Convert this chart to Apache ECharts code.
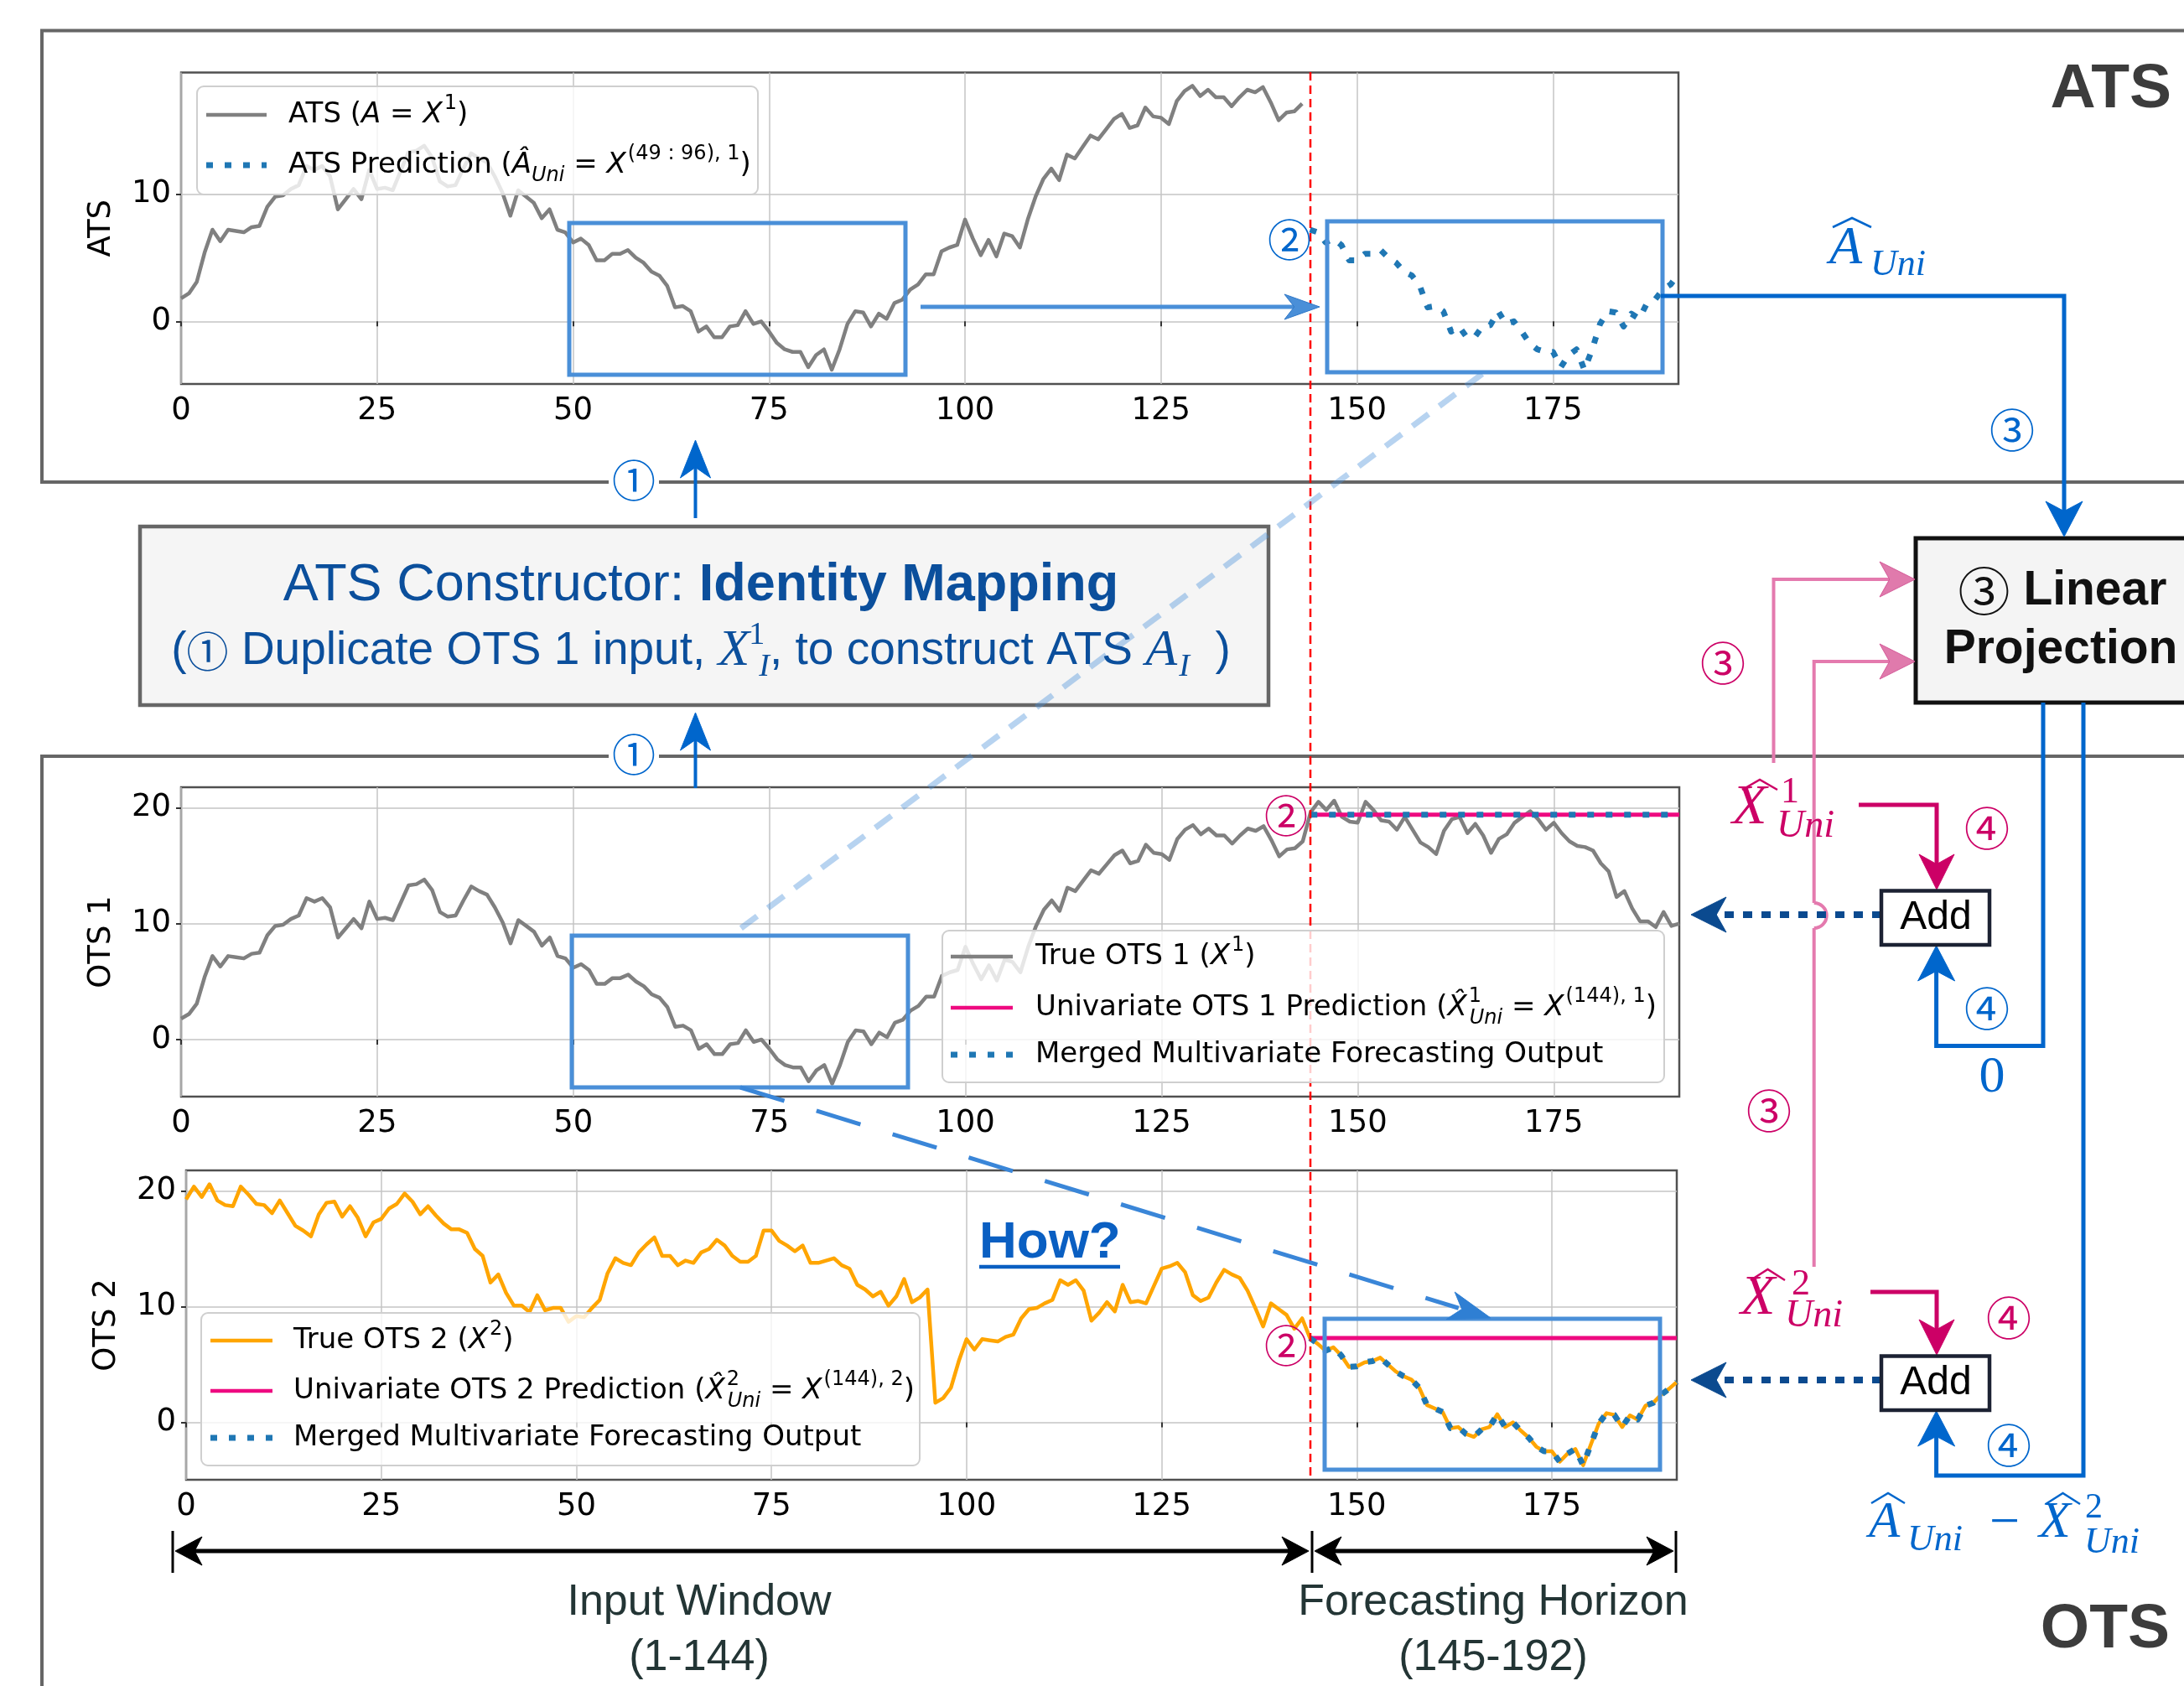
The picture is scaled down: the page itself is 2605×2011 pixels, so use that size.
<!DOCTYPE html>
<html>
<head>
<meta charset="utf-8">
<script src="https://cdn.jsdelivr.net/npm/echarts@6.0.0/dist/echarts.min.js"></script>
<style>
html,body{margin:0;padding:0;background:#fff;}
#fig{width:2605px;height:2011px;}
</style>
</head>
<body>
<div id="fig"></div>
<script>
// OTS 1 (X^1), t = 0..191
const ots1 = [
  1.8, 2.2, 3.1, 5.4, 7.2, 6.3, 7.2, 7.1, 7.0, 7.4,
  7.5, 9.0, 9.8, 9.9, 10.4, 10.7, 12.2, 11.9, 12.2, 11.4,
  8.8, 9.6, 10.4, 9.6, 11.9, 10.4, 10.5, 10.3, 11.8, 13.3,
  13.4, 13.8, 12.9, 11.0, 10.6, 10.7, 12.0, 13.2, 12.8, 12.5,
  11.4, 10.1, 8.3, 10.3, 9.8, 9.3, 8.1, 8.8, 7.2, 7.0,
  6.2, 6.5, 6.0, 4.8, 4.8, 5.3, 5.3, 5.6, 5.0, 4.6,
  3.9, 3.6, 2.8, 1.1, 1.2, 0.8, -0.8, -0.4, -1.25, -1.25,
  -0.4, -0.3, 0.8, -0.2, 0.0, -0.8, -1.7, -2.2, -2.4, -2.4,
  -3.6, -2.65, -2.2, -3.8, -2.2, -0.2, 0.8, 0.7, -0.4, 0.6,
  0.2, 1.45, 1.7, 2.5, 2.9, 3.7, 3.7, 5.5, 5.8, 6.0,
  8.0, 6.5, 5.2, 6.4, 5.1, 6.9, 6.7, 5.8, 8.0, 9.8,
  11.2, 12.0, 11.1, 13.1, 12.8, 13.7, 14.6, 14.3, 15.1, 15.9,
  16.3, 15.2, 15.4, 16.8, 16.1, 16.0, 15.5, 17.3, 18.1, 18.5,
  17.7, 18.2, 17.6, 17.6, 16.9, 17.6, 18.2, 18.0, 18.4, 17.2,
  15.8, 16.4, 16.5, 17.1, 19.6, 20.5, 19.8, 20.6, 19.2, 18.8,
  18.7, 20.5, 19.8, 18.9, 18.8, 18.1, 19.2, 18.1, 17.0, 16.6,
  16.0, 18.0, 19.0, 19.2, 17.8, 18.6, 17.6, 16.1, 17.3, 17.7,
  18.7, 19.2, 19.7, 19.0, 18.1, 18.7, 17.8, 17.1, 16.7, 16.6,
  16.3, 15.2, 14.5, 12.3, 12.8, 11.3, 10.2, 10.2, 9.7, 11.0,
  9.8, 10.0
];
// OTS 2 (X^2), t = 0..191
const ots2 = [
  19.3, 20.4, 19.5, 20.6, 19.2, 18.8, 18.7, 20.4, 19.7, 18.9,
  18.8, 18.1, 19.2, 18.1, 17.0, 16.6, 16.1, 18.0, 19.0, 19.1,
  17.8, 18.7, 17.7, 16.1, 17.3, 17.6, 18.5, 18.9, 19.8, 19.1,
  18.0, 18.7, 17.9, 17.2, 16.7, 16.7, 16.4, 15.0, 14.4, 12.1,
  12.8, 11.2, 10.1, 10.1, 9.55, 11.0, 9.7, 9.9, 9.9, 8.7,
  9.2, 9.1, 9.9, 10.6, 12.9, 14.2, 13.8, 13.6, 14.7, 15.4,
  16.0, 14.4, 14.4, 13.6, 14.0, 13.8, 14.7, 15.0, 15.8, 15.3,
  14.4, 13.9, 13.9, 14.4, 16.6, 16.6, 15.7, 15.3, 14.8, 15.3,
  13.8, 13.8, 14.0, 14.2, 13.6, 13.3, 11.9, 11.5, 10.9, 11.3,
  10.1, 10.9, 12.4, 10.4, 10.8, 11.5, 1.7, 2.1, 3.0, 5.3,
  7.2, 6.3, 7.2, 7.1, 7.0, 7.4, 7.6, 9.0, 9.8, 9.9,
  10.3, 10.6, 12.3, 11.9, 12.3, 11.4, 8.8, 9.5, 10.4, 9.6,
  11.9, 10.4, 10.5, 10.3, 11.8, 13.3, 13.5, 13.8, 13.0, 11.0,
  10.5, 10.8, 12.1, 13.2, 12.8, 12.5, 11.4, 9.9, 8.3, 10.3,
  9.8, 9.3, 8.1, 9.0, 7.3, 6.8, 6.2, 6.5, 5.8, 4.8,
  4.85, 5.2, 5.3, 5.6, 5.0, 4.4, 4.0, 3.7, 3.0, 1.5,
  1.2, 0.9, -0.5, -0.4, -1.0, -1.25, -0.6, -0.4, 0.7, -0.4,
  0.0, -0.7, -1.3, -2.1, -2.5, -2.5, -3.4, -2.7, -2.3, -3.7,
  -1.9, -0.1, 0.8, 0.65, -0.4, 0.6, 0.25, 1.45, 1.7, 2.4,
  2.9, 3.5
];
const xTicks = [0, 25, 50, 75, 100, 125, 150, 175];
const yTicks = [0, 10, 20];
const horizonStart = 144;      // first forecast step
const atsWindow = [48, 96];     // X^(49:96),1  (0-based slice)
const uniPred = [19.4, 7.3];    // univariate (last value) prediction, OTS 1 / OTS 2

// series data built from the arrays above
const atsData = ots1.slice(0, horizonStart).map((v, i) => [i, v]);
const atsPredData = ots1.slice(atsWindow[0], atsWindow[1]).map((v, i) => [horizonStart + i, v]);
const ots1Data = ots1.map((v, i) => [i, v]);
const ots2Data = ots2.map((v, i) => [i, v]);
const horizonX = ots1.slice(horizonStart).map((v, i) => horizonStart + i);
const uni1Data = horizonX.map(x => [x, uniPred[0]]);
const uni2Data = horizonX.map(x => [x, uniPred[1]]);
const merged2Data = ots2.slice(horizonStart).map((v, i) => [horizonStart + i, v]);

const BLUE = '#0066cc', PINK = '#cc0066', LPINK = '#e47aae', BOXC = '#4a8fd8', NAVY = '#0b4a8f';
const GRAY = '#808080', ORANGE = '#ffa500', UNI = '#ee0a80', DOT = '#1f77b4';
const SANS = 'DejaVu Sans';
const DOTS = [8, 14];

function xAx(gi) {
  return {
    type: 'value', gridIndex: gi, min: 0, max: 191,
    axisLine: {show: false},
    axisTick: {show: true, customValues: xTicks, length: 6, lineStyle: {color: '#333', width: 2}},
    axisLabel: {customValues: xTicks, fontFamily: SANS, fontSize: 37, color: '#000', margin: 14},
    splitLine: {show: true, lineStyle: {color: '#c4c4c4', width: 1.5}}
  };
}
function yAx(gi, min, max, name) {
  return {
    type: 'value', gridIndex: gi, min: min, max: max,
    name: name, nameLocation: 'middle', nameGap: 76, nameRotate: 90,
    nameTextStyle: {fontFamily: SANS, fontSize: 37, color: '#000'},
    axisLine: {show: false},
    axisTick: {show: true, customValues: yTicks, length: 6, lineStyle: {color: '#333', width: 2}},
    axisLabel: {customValues: yTicks, fontFamily: SANS, fontSize: 37, color: '#000', margin: 12},
    splitLine: {show: true, lineStyle: {color: '#c4c4c4', width: 1.5}}
  };
}
function ser(gi, data, color, width, dash, z) {
  return {
    type: 'line', xAxisIndex: gi, yAxisIndex: gi, data: data,
    showSymbol: false, symbol: 'none', silent: true, z: z || 2,
    lineStyle: {color: color, width: width, type: dash || 'solid', cap: 'butt', join: 'round'}
  };
}

// ---- graphic helpers ----
function P(pts, color, w, o) {
  o = o || {};
  return {type: 'polyline', z: o.z || 10, silent: true, shape: {points: pts},
    style: {stroke: color, lineWidth: w, fill: null, lineDash: o.dash || null, lineCap: 'butt', lineJoin: 'miter'}};
}
function R(x, y, w, h, stroke, lw, fill, o) {
  o = o || {};
  return {type: 'rect', z: o.z || 10, silent: true, shape: {x: x, y: y, width: w, height: h, r: o.r || 0},
    style: {stroke: stroke, lineWidth: lw, fill: fill || null}};
}
function H(tx, ty, ang, len, half, fill, o) {
  o = o || {};
  const c = Math.cos(ang), s = Math.sin(ang);
  const pt = (a, b) => [tx - a * c - b * s, ty - a * s + b * c];
  return {type: 'polygon', z: o.z || 11, silent: true,
    shape: {points: [pt(0, 0), pt(len, half), pt(len * 0.72, 0), pt(len, -half)]},
    style: {fill: fill, stroke: o.stroke || fill, lineWidth: o.lw || 1, lineJoin: 'miter'}};
}
function T(x, y, text, o) {
  o = o || {};
  const st = {text: text, fill: o.color || '#000', fontFamily: o.ff || 'Liberation Sans', fontSize: o.fs || 40,
    fontWeight: o.fw || 'normal', fontStyle: o.fst || 'normal', align: o.align || 'center', verticalAlign: o.va || 'middle'};
  if (o.rich) st.rich = o.rich;
  if (o.bg) { st.backgroundColor = o.bg; st.padding = o.pad || 0; }
  return {type: 'text', x: x, y: y, z: o.z || 12, silent: true, style: st};
}
function circ(x, y, ch, color, fs, o) {
  o = o || {};
  return T(x, y, ch, {ff: 'Noto Sans CJK SC', fs: fs || 50, color: color, bg: o.bg, pad: o.pad, z: o.z || 13});
}

// legend rich styles (matplotlib-like mathtext)
function rs(extra) {
  return Object.assign({fontFamily: SANS, fontSize: 34, lineHeight: 50, fill: '#000', color: '#000'}, extra || {});
}
const legRich = {
  t: rs(),
  i: rs({fontStyle: 'italic'}),
  sup: rs({fontSize: 24, lineHeight: 30, verticalAlign: 'top', padding: [0, 0, 0, 2]}),
  sup0: rs({fontSize: 24, lineHeight: 30, verticalAlign: 'top', width: 1, padding: [0, 0, 0, 2]}),
  sub: rs({fontSize: 24, lineHeight: 30, verticalAlign: 'bottom', fontStyle: 'italic'})
};
function legendBox(x, y, w, h, items) {
  const els = [R(x, y, w, h, '#cfcfcf', 2, 'rgba(255,255,255,0.8)', {r: 8, z: 20})];
  items.forEach(it => {
    els.push({type: 'line', z: 21, silent: true, shape: {x1: it.sx[0], y1: it.y, x2: it.sx[1], y2: it.y},
      style: {stroke: it.color, lineWidth: it.dotted ? 7 : 4.5, lineDash: it.dotted ? DOTS : null, lineCap: 'butt'}});
    els.push(T(it.tx, it.y, it.text, {align: 'left', ff: SANS, fs: 34, rich: legRich, z: 21}));
  });
  return els;
}
function hat(x1, x2, yb, yt, color) {
  return P([[x1, yb], [(x1 + x2) / 2, yt], [x2, yb]], color, 2.5, {z: 12});
}
function mt(x, y, text, color, fs, italic) {
  return T(x, y, text, {ff: 'Liberation Serif', fst: italic ? 'italic' : 'normal', align: 'left', color: color, fs: fs});
}

const g = [];
// panels
g.push(P([[2620, 36.5], [50, 36.5], [50, 575], [2620, 575]], '#666', 4, {z: 1}));
g.push(P([[2620, 902], [50, 902], [50, 2030]], '#666', 4, {z: 1}));
g.push(T(2590, 107, 'ATS', {fw: 'bold', fs: 75, color: '#3c3c3c', align: 'right'}));
g.push(T(2588, 1944, 'OTS', {fw: 'bold', fs: 75, color: '#3c3c3c', align: 'right'}));

// red horizon line
g.push({type: 'line', z: 4, silent: true, shape: {x1: 1563, y1: 86, x2: 1563, y2: 1765},
  style: {stroke: '#ff0000', lineWidth: 2.5, lineDash: [10, 6]}});

// constructor box
g.push(R(167, 628, 1346, 213, '#666', 4.5, '#f5f5f5', {z: 8}));
g.push(T(836, 699, '{r|ATS Constructor: }{b|Identity Mapping}', {z: 12, rich: {
  r: {fontFamily: 'Liberation Sans', fontSize: 63, fill: '#0b4f9c', color: '#0b4f9c'},
  b: {fontFamily: 'Liberation Sans', fontSize: 63, fontWeight: 'bold', fill: '#0b4f9c', color: '#0b4f9c'}}}));
(function () {
  const base = {fontFamily: 'Liberation Sans', fontSize: 55, lineHeight: 76, fill: '#0b4f9c', color: '#0b4f9c'};
  const m = Object.assign({}, base, {fontFamily: 'Liberation Serif', fontStyle: 'italic', fontSize: 62});
  g.push(T(836, 777, '{t|(}{c|①}{t| Duplicate OTS 1 input, }{m|X}{ms|1}{mi|I}{t|, to construct ATS }{m|A}{mi|I}{t|  )}', {z: 12, rich: {
    t: base,
    c: Object.assign({}, base, {fontFamily: 'Noto Sans CJK SC', fontSize: 50}),
    m: m,
    ms: Object.assign({}, base, {fontFamily: 'Liberation Serif', fontSize: 38, lineHeight: 46, verticalAlign: 'top', width: 1, padding: [0, 0, 0, 8]}),
    mi: Object.assign({}, base, {fontFamily: 'Liberation Serif', fontStyle: 'italic', fontSize: 38, lineHeight: 46, verticalAlign: 'bottom', padding: [0, 0, 0, 2]})
  }}));
})();
// step 1 arrows
g.push(P([[829.5, 618], [829.5, 555]], BLUE, 4));
g.push(H(829.5, 525, -Math.PI / 2, 45, 18, BLUE));
g.push(P([[829.5, 940], [829.5, 880]], BLUE, 4));
g.push(H(829.5, 850, -Math.PI / 2, 45, 18, BLUE));
g.push(circ(756, 573, '①', BLUE, 52, {bg: '#fff', pad: [0, 4]}));
g.push(circ(756, 900, '①', BLUE, 52, {bg: '#fff', pad: [0, 4]}));

// light dashed link ATS box -> OTS1 box
g.push({type: 'line', z: 9, silent: true, shape: {x1: 1768, y1: 446, x2: 876, y2: 1113},
  style: {stroke: 'rgba(74,144,217,0.4)', lineWidth: 7, lineDash: [24, 16]}});

// blue window boxes
g.push(R(679, 266, 401, 181, BOXC, 5, null, {z: 6}));
g.push(R(1583, 264, 400, 180, BOXC, 5, null, {z: 6}));
g.push(R(682, 1116, 401, 181, BOXC, 5, null, {z: 6}));
g.push(R(1580, 1573, 400, 180, BOXC, 5, null, {z: 6}));
// box -> box arrow
g.push(P([[1098, 366], [1545, 366]], BOXC, 5));
g.push(H(1574, 366, 0, 42, 15, BOXC, {stroke: '#2f78c8'}));
// "How?" dashed arrow
(function () {
  const a = Math.atan2(1572 - 1297, 1778 - 883);
  g.push({type: 'line', z: 9, silent: true,
    shape: {x1: 883, y1: 1297, x2: 1778 - 40 * Math.cos(a), y2: 1572 - 40 * Math.sin(a)},
    style: {stroke: '#3a86d8', lineWidth: 5, lineDash: [55, 40]}});
  g.push(H(1778, 1572, a, 50, 17, '#2f7fd3'));
})();
g.push(T(1168, 1483, 'How?', {fw: 'bold', fs: 62, color: '#0a5fc2', align: 'left'}));
g.push(P([[1168, 1511], [1336, 1511]], '#0a5fc2', 4.5));

// step 2 markers
g.push(circ(1538, 286, '②', BLUE, 52));
g.push(circ(1534, 973, '②', PINK, 52));
g.push(circ(1534, 1605, '②', PINK, 52));

// A_Uni -> Linear Projection
g.push(P([[1981, 353], [2462, 353], [2462, 612]], BLUE, 5));
g.push(H(2462, 640, Math.PI / 2, 42, 22, BLUE));
g.push(hat(2186, 2232, 271, 260, BLUE));
g.push(mt(2182, 297, 'A', BLUE, 64, true));
g.push(mt(2231, 316, 'Uni', BLUE, 44, true));
g.push(circ(2400, 513, '③', BLUE, 54));

// Linear Projection box
g.push(R(2285, 642, 400, 196, '#111', 5, '#f4f4f4', {z: 8}));
g.push(T(2460, 705, '{c|③}{b| Linear}', {z: 12, rich: {
  c: {fontFamily: 'Noto Sans CJK SC', fontSize: 62, fill: '#111', color: '#111'},
  b: {fontFamily: 'Liberation Sans', fontSize: 57, fontWeight: 'bold', fill: '#111', color: '#111'}}}));
g.push(T(2458, 775, 'Projection', {fw: 'bold', fs: 57, color: '#111'}));

// pink (light) inputs to linear projection
g.push(P([[2115.5, 910], [2115.5, 691], [2255, 691]], LPINK, 4));
g.push(H(2284, 691, 0, 42, 21, '#e07aac', {stroke: '#d45a98'}));
g.push(P([[2163.7, 1511], [2163.7, 1107]], LPINK, 4));
g.push({type: 'arc', z: 10, silent: true, shape: {cx: 2163.7, cy: 1092, r: 15, startAngle: Math.PI / 2, endAngle: -Math.PI / 2, clockwise: false},
  style: {stroke: LPINK, lineWidth: 4, fill: null}});
g.push(P([[2163.7, 1077], [2163.7, 789], [2255, 789]], LPINK, 4));
g.push(H(2284, 789, 0, 42, 21, '#e07aac', {stroke: '#d45a98'}));
g.push(circ(2055, 791, '③', PINK, 54));
g.push(circ(2110, 1325, '③', PINK, 54));

// X^1_Uni label and add block 1
g.push(hat(2078, 2120, 942, 930, PINK));
g.push(mt(2066, 964, 'X', PINK, 68, true));
g.push(mt(2124, 945, '1', PINK, 44, false));
g.push(mt(2119, 986, 'Uni', PINK, 46, true));
g.push(P([[2217, 960], [2310, 960], [2310, 1032]], PINK, 5));
g.push(H(2310, 1061, Math.PI / 2, 42, 21, PINK));
g.push(circ(2370, 988, '④', PINK, 54));
g.push(R(2244, 1062.5, 129, 64.5, '#1c2233', 4.5, '#fff', {z: 12}));
g.push(T(2309, 1095, 'Add', {fs: 48, z: 13}));
g.push(P([[2244, 1091], [2048, 1091]], NAVY, 8, {dash: [11, 11]}));
g.push(H(2017, 1091, Math.PI, 42, 21, NAVY));
g.push(P([[2437, 838], [2437, 1247.5], [2309.6, 1247.5], [2309.6, 1158]], BLUE, 5));
g.push(H(2309.6, 1128, -Math.PI / 2, 42, 22, BLUE));
g.push(circ(2370, 1203, '④', BLUE, 54));
g.push(mt(2376, 1286, '0', BLUE, 62, false));
g[g.length - 1].style.align = 'center';

// X^2_Uni label and add block 2
g.push(hat(2088, 2129, 1527, 1514, PINK));
g.push(mt(2076, 1549, 'X', PINK, 68, true));
g.push(mt(2137, 1532, '2', PINK, 44, false));
g.push(mt(2129, 1570, 'Uni', PINK, 46, true));
g.push(P([[2231, 1541], [2310, 1541], [2310, 1588]], PINK, 5));
g.push(H(2310, 1616, Math.PI / 2, 42, 21, PINK));
g.push(circ(2396, 1572, '④', PINK, 54));
g.push(R(2244, 1617.5, 129, 64.5, '#1c2233', 4.5, '#fff', {z: 12}));
g.push(T(2309, 1650, 'Add', {fs: 48, z: 13}));
g.push(P([[2244, 1646], [2048, 1646]], NAVY, 8, {dash: [11, 11]}));
g.push(H(2017, 1646, Math.PI, 42, 21, NAVY));
g.push(P([[2485, 838], [2485, 1760], [2309.6, 1760], [2309.6, 1713]], BLUE, 5));
g.push(H(2309.6, 1683, -Math.PI / 2, 42, 22, BLUE));
g.push(circ(2396, 1724, '④', BLUE, 54));
// A_Uni - X^2_Uni
g.push(hat(2232, 2272, 1793, 1781, BLUE));
g.push(mt(2229, 1817, 'A', BLUE, 61, true));
g.push(mt(2275, 1837, 'Uni', BLUE, 44, true));
g.push(T(2391, 1818, '\u2212', {ff: 'Liberation Serif', fs: 64, color: BLUE}));
g.push(hat(2440, 2481, 1794, 1781, BLUE));
g.push(mt(2432, 1817, 'X', BLUE, 62, true));
g.push(mt(2487, 1799, '2', BLUE, 42, false));
g.push(mt(2486, 1840, 'Uni', BLUE, 44, true));

// input window / horizon arrows
g.push(P([[230, 1850], [1540, 1850]], '#000', 5));
g.push(P([[1590, 1850], [1975, 1850]], '#000', 5));
g.push(H(209, 1850, Math.PI, 32, 17, '#000'));
g.push(H(1561, 1850, 0, 32, 17, '#000'));
g.push(H(1568, 1850, Math.PI, 32, 17, '#000'));
g.push(H(1996, 1850, 0, 32, 17, '#000'));
g.push(P([[206, 1826], [206, 1876]], '#000', 3));
g.push(P([[1565, 1826], [1565, 1876]], '#000', 3));
g.push(P([[1999, 1826], [1999, 1876]], '#000', 3));
g.push(T(834, 1912, 'Input Window', {fs: 52, color: '#233535'}));
g.push(T(834, 1978, '(1-144)', {fs: 52, color: '#233535'}));
g.push(T(1781, 1912, 'Forecasting Horizon', {fs: 52, color: '#233535'}));
g.push(T(1781, 1978, '(145-192)', {fs: 52, color: '#233535'}));

// legends
legendBox(235, 103, 669, 129, [
  {y: 137, sx: [246, 318], tx: 344, color: GRAY, text: '{t|ATS (}{i|A}{t| = }{i|X}{sup|1}{t|)}'},
  {y: 197, sx: [246, 318], tx: 344, color: DOT, dotted: true,
   text: '{t|ATS Prediction (}{i|\u00c2}{sub|Uni}{t| = }{i|X}{sup|(49 : 96), 1}{t|)}'}
]).forEach(e => g.push(e));
legendBox(1124, 1110, 861, 181, [
  {y: 1141, sx: [1134, 1208], tx: 1235, color: GRAY, text: '{t|True OTS 1 (}{i|X}{sup|1}{t|)}'},
  {y: 1202, sx: [1134, 1208], tx: 1235, color: UNI,
   text: '{t|Univariate OTS 1 Prediction (}{i|X\u0302}{sup0|1}{sub|Uni}{t| = }{i|X}{sup|(144), 1}{t|)}'},
  {y: 1258, sx: [1134, 1208], tx: 1235, color: DOT, dotted: true, text: '{t|Merged Multivariate Forecasting Output}'}
]).forEach(e => g.push(e));
legendBox(240, 1566, 857, 182, [
  {y: 1599, sx: [251, 325], tx: 350, color: ORANGE, text: '{t|True OTS 2 (}{i|X}{sup|2}{t|)}'},
  {y: 1659, sx: [251, 325], tx: 350, color: UNI,
   text: '{t|Univariate OTS 2 Prediction (}{i|X\u0302}{sup0|2}{sub|Uni}{t| = }{i|X}{sup|(144), 2}{t|)}'},
  {y: 1715, sx: [251, 325], tx: 350, color: DOT, dotted: true, text: '{t|Merged Multivariate Forecasting Output}'}
]).forEach(e => g.push(e));

const chart = echarts.init(document.getElementById('fig'), null, {renderer: 'canvas'});
chart.setOption({
  animation: false,
  backgroundColor: '#fff',
  grid: [
    {left: 216, top: 86.5, width: 1786, height: 371.5, show: true, borderColor: '#505050', borderWidth: 2.5, backgroundColor: 'transparent'},
    {left: 216, top: 939, width: 1787, height: 369, show: true, borderColor: '#505050', borderWidth: 2.5, backgroundColor: 'transparent'},
    {left: 222, top: 1396, width: 1778, height: 369, show: true, borderColor: '#505050', borderWidth: 2.5, backgroundColor: 'transparent'}
  ],
  xAxis: [xAx(0), xAx(1), xAx(2)],
  yAxis: [yAx(0, -4.92, 19.55, 'ATS'), yAx(1, -4.92, 21.76, 'OTS 1'), yAx(2, -4.96, 21.8, 'OTS 2')],
  series: [
    ser(0, atsData, GRAY, 4.5),
    ser(0, atsPredData, DOT, 7, DOTS, 3),
    ser(1, ots1Data, GRAY, 4.5),
    ser(1, uni1Data, UNI, 5),
    ser(1, uni1Data, DOT, 7, DOTS, 3),
    ser(2, ots2Data, ORANGE, 4.5),
    ser(2, uni2Data, UNI, 5),
    ser(2, merged2Data, DOT, 7, DOTS, 3)
  ],
  graphic: {elements: g}
});
</script>
</body>
</html>
